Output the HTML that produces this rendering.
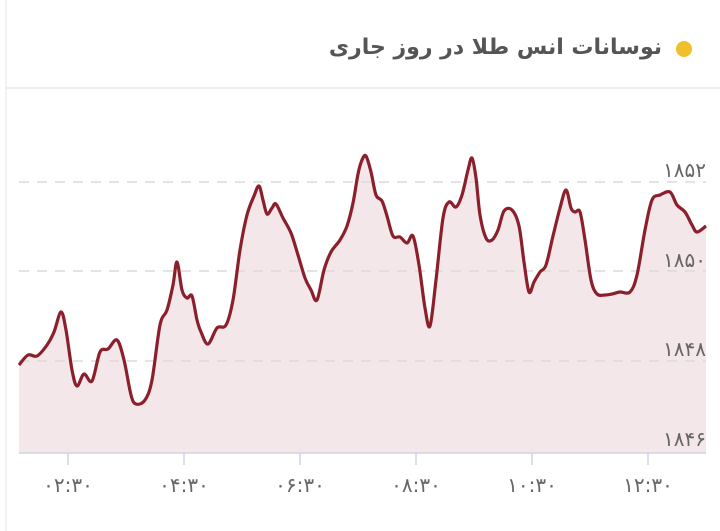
<!DOCTYPE html>
<html><head><meta charset="utf-8"><style>
html,body{margin:0;padding:0;background:#fff;}
body{width:720px;height:531px;position:relative;overflow:hidden;font-family:"Liberation Sans","Noto Sans CJK SC",sans-serif;}
#title{position:absolute;right:58px;top:32px;direction:rtl;font-family:"DejaVu Sans",sans-serif;font-size:22px;font-weight:bold;color:#555;white-space:nowrap;line-height:32px;}
</style></head><body>
<svg width="720" height="531" xmlns="http://www.w3.org/2000/svg" style="position:absolute;left:0;top:0">
<rect x="0" y="0" width="720" height="531" fill="#fff"/>
<line x1="6" y1="0" x2="6" y2="531" stroke="#eee" stroke-width="1.5"/>
<line x1="6" y1="88" x2="720" y2="88" stroke="#eaeaea" stroke-width="1.5"/>
<circle cx="684" cy="49" r="8" fill="#f0c02a"/>
<path id="area" fill="#f4e7e9" d=""/>
<g stroke="#dcdcdc" stroke-width="1.5" stroke-dasharray="10,8">
<line x1="19" y1="182" x2="706" y2="182"/>
<line x1="19" y1="271" x2="706" y2="271"/>
<line x1="19" y1="361" x2="706" y2="361"/>
</g>
<path id="ln" fill="none" stroke="#8b1f2c" stroke-width="3.2" stroke-linejoin="round" d=""/>
<line x1="19" y1="453" x2="706" y2="453" stroke="#cdd6e4" stroke-width="1.5"/>
<g stroke="#cdd6e4" stroke-width="1.5">
<line x1="68" y1="453" x2="68" y2="465"/><line x1="184" y1="453" x2="184" y2="465"/>
<line x1="300" y1="453" x2="300" y2="465"/><line x1="416" y1="453" x2="416" y2="465"/>
<line x1="532" y1="453" x2="532" y2="465"/><line x1="648" y1="453" x2="648" y2="465"/>
</g>
<g font-size="20" fill="#666" text-anchor="end" font-family="DejaVu Sans, sans-serif">
<text x="706" y="177">۱۸۵۲</text>
<text x="706" y="267">۱۸۵۰</text>
<text x="706" y="356">۱۸۴۸</text>
<text x="706" y="446">۱۸۴۶</text>
</g>
<g font-size="20" fill="#666" text-anchor="middle" font-family="DejaVu Sans, sans-serif">
<text x="68" y="492">۰۲:۳۰</text><text x="184" y="492">۰۴:۳۰</text>
<text x="300" y="492">۰۶:۳۰</text><text x="416" y="492">۰۸:۳۰</text>
<text x="532" y="492">۱۰:۳۰</text><text x="648" y="492">۱۲:۳۰</text>
</g>
</svg>
<div id="title">نوسانات انس طلا در روز جاری</div>
<script>
var p=[[19,365],[28,355],[37,356],[47,345],[54,332],[61,312],[66,330],[72,370],[77,386],[84,374],[92,381],[100,352],[108,349],[117,340],[124,360],[131,395],[136,404],[145,400],[152,380],[160,325],[167,310],[173,285],[177,262],[182,290],[187,298],[192,296],[197,320],[201,332],[208,344],[217,328],[226,325],[233,300],[240,250],[247,215],[254,196],[259,186],[263,200],[267,214],[272,208],[276,204],[283,218],[291,233],[298,255],[305,278],[311,290],[317,300],[324,270],[331,252],[340,240],[347,226],[353,203],[358,174],[362,160],[366,156],[371,172],[376,195],[382,201],[387,216],[393,236],[400,237],[407,243],[413,236],[419,265],[425,308],[430,326],[436,280],[443,218],[449,202],[456,207],[462,195],[468,170],[472,158],[476,178],[480,215],[486,238],[492,240],[498,230],[504,211],[512,210],[519,226],[524,262],[529,292],[534,282],[540,272],[546,265],[553,236],[560,208],[566,190],[571,208],[575,212],[580,212],[585,240],[591,280],[597,294],[605,295],[612,294],[620,292],[630,292],[637,275],[645,230],[652,200],[660,195],[670,192],[677,205],[685,212],[692,225],[697,232],[706,226]];
var d="M"+p[0][0]+","+p[0][1];
for(var i=0;i<p.length-1;i++){var a=p[i-1]||p[i],b=p[i],c=p[i+1],e=p[i+2]||c;
d+=" C"+(b[0]+(c[0]-a[0])/6)+","+(b[1]+(c[1]-a[1])/6)+" "+(c[0]-(e[0]-b[0])/6)+","+(c[1]-(e[1]-b[1])/6)+" "+c[0]+","+c[1];}
document.getElementById("ln").setAttribute("d",d);
document.getElementById("area").setAttribute("d",d+" L706,453 L19,453 Z");
</script>
</body></html>
